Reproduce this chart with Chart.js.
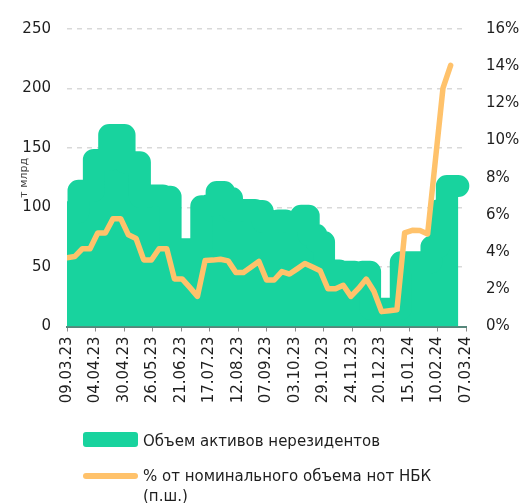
<!DOCTYPE html>
<html lang="ru">
<head>
<meta charset="utf-8"/>
<title>Объем активов нерезидентов</title>
<script src="https://cdn.jsdelivr.net/npm/chart.js@4.4.0/dist/chart.umd.min.js"></script>
<style>
    body {
        margin: 0;
        background: #fff;
        font-family: 'DejaVu Sans', Verdana, sans-serif;
        color: #1e1e1e;
    }
    .wrap {
        position: relative;
        width: 524px;
        height: 503px;
    }
    #chart1 {
        position: absolute;
        left: 0;
        top: 0;
    }
    .sw, .txt {
        position: absolute;
    }
    .sw1 {
        left: 83px; top: 432px;
        width: 55px; height: 15px;
        border-radius: 3px;
        background: #18d39e;
    }
    .sw2 {
        left: 83px; top: 473px;
        width: 55px; height: 6px;
        border-radius: 3px;
        background: #ffc26b;
    }
    .txt {
        left: 143px;
        font-size: 15px;
        line-height: 20px;
        white-space: nowrap;
    }
    .t1 { top: 431px; }
    .t2 { top: 466px; }
</style>
</head>

<body>
<div class="wrap">
    <canvas id="chart1" width="524" height="503"></canvas>
    <div class="sw sw1"></div>
    <div class="txt t1">Объем активов нерезидентов</div>
    <div class="sw sw2"></div>
    <div class="txt t2">% от номинального объема нот НБК<br>(п.ш.)</div>
</div>

<script>
    // weekly dates (dd.mm.yy)
    const dates = [
        '09.03.23', '16.03.23', '23.03.23', '30.03.23', '06.04.23', '13.04.23', '20.04.23', '27.04.23',
        '04.05.23', '11.05.23', '18.05.23', '25.05.23', '01.06.23', '08.06.23', '15.06.23', '22.06.23',
        '29.06.23', '06.07.23', '13.07.23', '20.07.23', '27.07.23', '03.08.23', '10.08.23', '17.08.23',
        '24.08.23', '31.08.23', '07.09.23', '14.09.23', '21.09.23', '28.09.23', '05.10.23', '12.10.23',
        '19.10.23', '26.10.23', '02.11.23', '09.11.23', '16.11.23', '23.11.23', '30.11.23', '07.12.23',
        '14.12.23', '21.12.23', '28.12.23', '04.01.24', '11.01.24', '18.01.24', '25.01.24', '01.02.24',
        '08.02.24', '15.02.24', '22.02.24', '29.02.24'
    ];

    // Объем активов нерезидентов, т млрд
    const nonresVolume = [
        96, 96, 114, 114, 140, 140, 161, 161, 138, 138,
        109, 110, 110, 109, 65, 65, 65, 65, 101, 102,
        113, 108, 97, 98, 98, 97, 88, 88, 89, 88,
        88, 93, 77, 71, 46, 47, 46, 46, 42, 46,
        15, 15, 15, 15, 54, 54, 54, 54, 67, 98,
        118, 118
    ];

    // % от номинального объема нот НБК (п.ш.)
    const shareOfNotes = [
        3.70, 3.76, 4.18, 4.18, 5.03, 5.03, 5.80, 5.80, 4.93, 4.73,
        3.58, 3.58, 4.18, 4.18, 2.56, 2.56, 2.10, 1.62, 3.55, 3.57,
        3.62, 3.53, 2.91, 2.91, 3.20, 3.50, 2.50, 2.50, 2.95, 2.82,
        3.10, 3.39, 3.20, 3.00, 2.03, 2.03, 2.22, 1.62, 2.05, 2.55,
        1.90, 0.80, 0.85, 0.90, 5.03, 5.17, 5.16, 4.98, 8.90, 12.82,
        14.05
    ];

    const tickLabels = [
        '09.03.23', '04.04.23', '30.04.23', '26.05.23', '21.06.23', '17.07.23', '12.08.23', '07.09.23',
        '03.10.23', '29.10.23', '24.11.23', '20.12.23', '15.01.24', '10.02.24', '07.03.24'
    ];

    const GREEN = '#18d39e';
    const ORANGE = '#ffc26b';

    function toUTC(s) {
        var p = s.split('.');
        return Date.UTC(2000 + Number(p[2]), Number(p[1]) - 1, Number(p[0]));
    }
    const base = toUTC(tickLabels[0]);
    function dayOf(s) {
        return Math.round((toUTC(s) - base) / 864e5);
    }

    const tickDays = tickLabels.map(dayOf);

    Chart.defaults.font.family = "'DejaVu Sans', Verdana, sans-serif";
    Chart.defaults.color = '#1e1e1e';

    var ch1 = document.getElementById('chart1').getContext('2d');
    var chart1 = new Chart(ch1, {
        type: 'line',
        data: {
            datasets: [
                {
                    label: '% от номинального объема нот НБК (п.ш.)',
                    data: shareOfNotes.map((v, i) => ({x: dayOf(dates[i]), y: v})),
                    yAxisID: 'y1',
                    borderColor: ORANGE,
                    backgroundColor: ORANGE,
                    borderWidth: 5.5,
                    borderJoinStyle: 'round',
                    borderCapStyle: 'round',
                    pointRadius: 0,
                    tension: 0,
                    fill: false,
                    order: 1
                },
                {
                    label: 'Объем активов нерезидентов',
                    data: nonresVolume.map((v, i) => ({x: dayOf(dates[i]), y: v})),
                    yAxisID: 'y',
                    stepped: 'middle',
                    borderColor: GREEN,
                    backgroundColor: GREEN,
                    borderWidth: 22,
                    borderJoinStyle: 'round',
                    borderCapStyle: 'round',
                    pointRadius: 0,
                    fill: 'origin',
                    clip: {left: 0, top: false, right: 4, bottom: 0},
                    order: 2
                }
            ]
        },
        options: {
            responsive: false,
            animation: false,
            events: [],
            layout: {
                padding: {top: 25, right: 0, bottom: 86.5, left: 0}
            },
            plugins: {
                legend: {display: false},
                tooltip: {enabled: false}
            },
            scales: {
                x: {
                    type: 'linear',
                    min: tickDays[0],
                    max: tickDays[tickDays.length - 1],
                    afterBuildTicks: function (s) {
                        s.ticks = tickDays.map(v => ({value: v}));
                    },
                    afterFit: function (s) {
                        s.height = 90;
                    },
                    ticks: {
                        autoSkip: false,
                        minRotation: 90,
                        maxRotation: 90,
                        padding: 5,
                        font: {size: 15},
                        callback: (v, i) => tickLabels[i]
                    },
                    grid: {
                        drawOnChartArea: false,
                        drawTicks: true,
                        tickLength: 5,
                        color: '#8c8c8c'
                    },
                    border: {
                        display: true,
                        color: '#56877b',
                        width: 2
                    }
                },
                y: {
                    position: 'left',
                    min: 0,
                    max: 250,
                    afterFit: function (s) {
                        s.width = 67;
                    },
                    ticks: {
                        stepSize: 50,
                        padding: 16,
                        font: {size: 15}
                    },
                    grid: {
                        color: '#d9d9d9',
                        lineWidth: 1.5,
                        drawTicks: false
                    },
                    border: {
                        display: false,
                        dash: [5, 5]
                    },
                    title: {
                        display: true,
                        text: 'т млрд',
                        color: '#404040',
                        font: {size: 11},
                        padding: {top: 18, bottom: 0}
                    }
                },
                y1: {
                    position: 'right',
                    min: 0,
                    max: 16,
                    afterFit: function (s) {
                        s.width = 58;
                    },
                    ticks: {
                        stepSize: 2,
                        padding: 20,
                        font: {size: 15},
                        callback: v => v + '%'
                    },
                    grid: {
                        drawOnChartArea: false,
                        drawTicks: false
                    },
                    border: {display: false}
                }
            }
        }
    });
</script>
</body>
</html>
